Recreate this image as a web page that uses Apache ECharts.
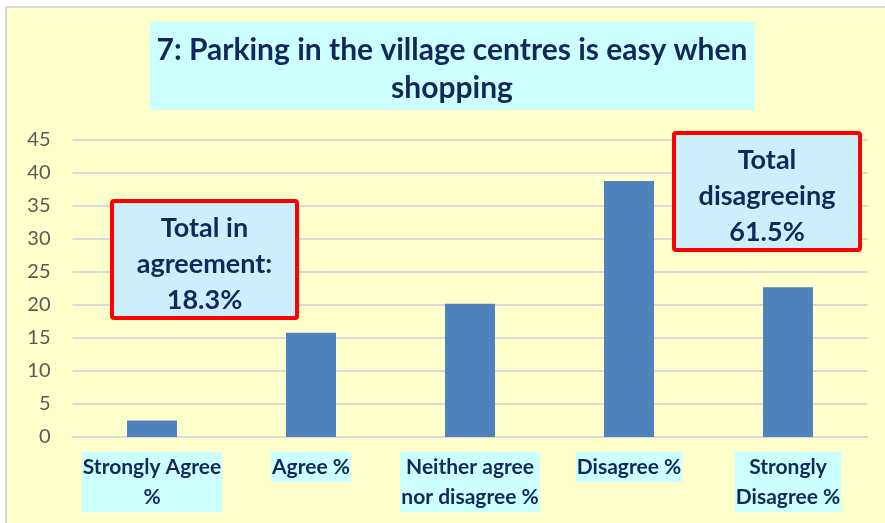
<!DOCTYPE html>
<html>
<head>
<meta charset="utf-8">
<script src="https://cdn.jsdelivr.net/npm/echarts@6/dist/echarts.min.js"></script>
<style>
  html, body { margin: 0; padding: 0; background: #ffffff; }
  #chart { width: 885px; height: 523px; }
</style>
</head>
<body>
<div id="chart"></div>
<script>
var categories = ['Strongly Agree\n%', 'Agree %', 'Neither agree\nnor disagree %', 'Disagree %', 'Strongly\nDisagree %'];
var values = [2.5, 15.8, 20.2, 38.8, 22.7];
var titleText = '7: Parking in the village centres is easy when\nshopping';
var agreeNote = 'Total in\nagreement:\n18.3%';
var disagreeNote = 'Total\ndisagreeing\n61.5%';

var navy = '#12275a';
var chart = echarts.init(document.getElementById('chart'));

function noteBox(x, y, w, h, text) {
  return {
    type: 'group',
    left: x, top: y, z: 100,
    children: [
      { type: 'rect', z: 100, shape: { x: 0, y: 0, width: w, height: h, r: 2 },
        style: { fill: '#cdeffd', stroke: '#ff0000', lineWidth: 4 } },
      { type: 'text', z: 101, x: w / 2, y: h / 2 + 5,
        style: { text: text, fill: navy, font: 'bold 27px Lato', align: 'center',
                 verticalAlign: 'middle', lineHeight: 36 } }
    ]
  };
}

var option = {
  backgroundColor: '#ffffff',
  animation: false,
  graphic: [
    { type: 'rect', z: -10, shape: { x: 6, y: 7, width: 890, height: 530 },
      style: { fill: '#ffffcc', stroke: '#d9d9d9', lineWidth: 2 } },
    { type: 'rect', z: -5, shape: { x: 150, y: 22, width: 605, height: 88 },
      style: { fill: '#ccffff' } },
    { type: 'text', x: 452, y: 69, z: 10,
      style: { text: titleText, fill: navy, font: 'bold 30px Lato', align: 'center',
               verticalAlign: 'middle', lineHeight: 38 } },
    noteBox(110, 199, 185, 117, agreeNote),
    noteBox(672, 131, 186, 117, disagreeNote)
  ],
  grid: { left: 72.5, right: 17.5, top: 140, bottom: 86 },
  xAxis: {
    type: 'category',
    data: categories,
    axisLine: { lineStyle: { color: '#d9d9d9', width: 2 } },
    axisTick: { show: false },
    axisLabel: {
      color: navy, fontFamily: 'Lato', fontWeight: 'bold', fontSize: 21,
      lineHeight: 30, margin: 15, interval: 0,
      backgroundColor: '#ccffff', padding: [0, 1]
    }
  },
  yAxis: {
    type: 'value',
    min: 0, max: 45, interval: 5,
    axisLine: { show: false },
    axisTick: { show: false },
    axisLabel: { color: '#595959', fontFamily: 'Lato', fontSize: 20, margin: 22 },
    splitLine: { lineStyle: { color: '#d9d9d9', width: 2 } }
  },
  series: [{
    type: 'bar',
    data: values,
    barWidth: 50,
    itemStyle: { color: '#4f81bd' }
  }]
};
chart.setOption(option);
</script>
</body>
</html>
